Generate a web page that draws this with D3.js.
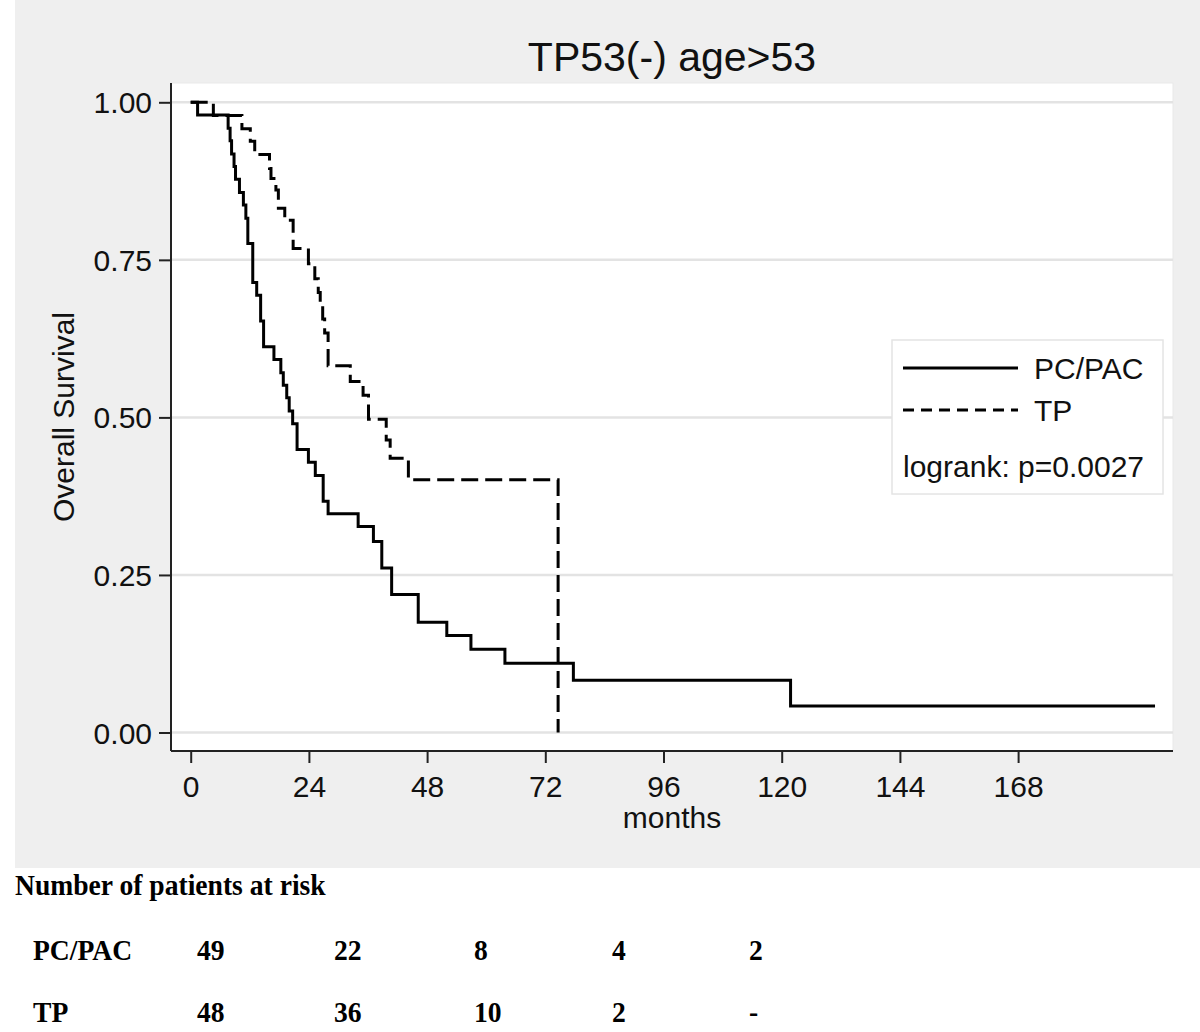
<!DOCTYPE html>
<html>
<head>
<meta charset="utf-8">
<script src="https://cdn.jsdelivr.net/npm/d3@7"></script>
<style>
  html, body { margin: 0; padding: 0; background: #ffffff; }
  svg { display: block; }
</style>
</head>
<body>
<svg id="chart" width="1200" height="1032"></svg>
<script>
// ---------------- data ----------------
const chartTitle = "TP53(-) age>53";
const xTickValues = [0, 24, 48, 72, 96, 120, 144, 168];
const yTickValues = [0, 0.25, 0.5, 0.75, 1.0];

// PC/PAC (solid) Kaplan-Meier steps: time (months) -> survival after the step
const pcTimes = [0, 1.4, 7.6, 8.0, 8.3, 8.8, 9.1, 9.9, 10.7, 11.2, 11.6, 12.6, 13.4, 14.2, 14.8,
  16.9, 18.3, 18.8, 19.5, 20.0, 20.7, 21.6, 23.9, 25.3, 26.9, 27.9, 34.0, 37.1, 38.8, 40.8,
  46.2, 52.0, 56.9, 63.8, 77.7, 121.8, 195.8];
const pcSurv = [1.0, 0.980, 0.959, 0.939, 0.918, 0.898, 0.878, 0.857, 0.837, 0.816, 0.776, 0.714, 0.694, 0.653, 0.612,
  0.592, 0.571, 0.551, 0.531, 0.510, 0.490, 0.449, 0.429, 0.408, 0.367, 0.347, 0.327, 0.303, 0.261, 0.219,
  0.175, 0.154, 0.132, 0.110, 0.083, 0.042, 0.042];

// TP (dashed) Kaplan-Meier steps
const tpTimes = [0, 4.6, 10.4, 12.1, 13.0, 16.0, 16.3, 17.3, 17.8, 19.1, 20.8, 23.9, 25.2, 25.9, 26.3,
  26.8, 27.2, 27.9, 32.4, 35.0, 36.1, 39.7, 40.5, 44.2, 74.6];
const tpSurv = [1.0, 0.979, 0.958, 0.938, 0.917, 0.895, 0.879, 0.861, 0.832, 0.813, 0.768, 0.744, 0.720, 0.698, 0.677,
  0.656, 0.634, 0.582, 0.557, 0.535, 0.497, 0.464, 0.435, 0.401, 0.0];

const seriesNames = ["PC/PAC", "TP"];
const logrankText = "logrank: p=0.0027";

// number at risk table
const riskTitle = "Number of patients at risk";
const riskRowNames = ["PC/PAC", "TP"];
const riskPC = ["49", "22", "8", "4", "2"];
const riskTP = ["48", "36", "10", "2", "-"];

// ---------------- layout ----------------
const svg = d3.select("#chart");
const sans = "'Liberation Sans', Arial, Helvetica, sans-serif";
const serif = "'Liberation Serif', 'Times New Roman', serif";
const plot = { left: 171, right: 1173, top: 83, bottom: 751 };

const x = d3.scaleLinear().domain([-4, 199.45]).range([plot.left, plot.right]);
const y = d3.scaleLinear().domain([0, 1]).range([732.5, 102.3]);

// background
svg.append("rect").attr("x", 15).attr("y", 0).attr("width", 1185).attr("height", 868).attr("fill", "#efefef");
svg.append("rect").attr("x", plot.left).attr("y", plot.top)
  .attr("width", plot.right - plot.left).attr("height", plot.bottom - plot.top)
  .attr("fill", "#ffffff").attr("stroke", "#e9e9e9").attr("stroke-width", 1);

// gridlines
svg.append("g").selectAll("line").data(yTickValues).join("line")
  .attr("x1", plot.left).attr("x2", plot.right)
  .attr("y1", d => y(d)).attr("y2", d => y(d))
  .attr("stroke", "#e3e3e3").attr("stroke-width", 2.5);

// title
svg.append("text").attr("x", (plot.left + plot.right) / 2).attr("y", 71)
  .attr("text-anchor", "middle").attr("font-family", sans).attr("font-size", 41)
  .attr("fill", "#111").text(chartTitle);

// axes
const xAxis = d3.axisBottom(x).tickValues(xTickValues).tickSize(12).tickPadding(12).tickFormat(d3.format("d"));
const gx = svg.append("g").attr("transform", `translate(0,${plot.bottom})`).call(xAxis);
gx.select(".domain").attr("d", `M${plot.left},0H${plot.right}`).attr("stroke", "#222").attr("stroke-width", 2);
gx.selectAll(".tick line").attr("stroke", "#222").attr("stroke-width", 2);
gx.selectAll(".tick text").attr("font-family", sans).attr("font-size", 30).attr("fill", "#111")
  .attr("dy", null).attr("y", 46);

const yAxis = d3.axisLeft(y).tickValues(yTickValues).tickSize(12).tickPadding(7).tickFormat(d3.format(".2f"));
const gy = svg.append("g").attr("transform", `translate(${plot.left},0)`).call(yAxis);
gy.select(".domain").attr("d", `M0,${plot.top}V${plot.bottom}`).attr("stroke", "#222").attr("stroke-width", 2);
gy.selectAll(".tick line").attr("stroke", "#222").attr("stroke-width", 2);
gy.selectAll(".tick text").attr("font-family", sans).attr("font-size", 30).attr("fill", "#111")
  .attr("dy", "0.35em");

// axis titles
svg.append("text").attr("x", (plot.left + plot.right) / 2).attr("y", 828)
  .attr("text-anchor", "middle").attr("font-family", sans).attr("font-size", 30)
  .attr("fill", "#111").text("months");
svg.append("text").attr("transform", `translate(74,${(plot.top + plot.bottom) / 2}) rotate(-90)`)
  .attr("text-anchor", "middle").attr("font-family", sans).attr("font-size", 30)
  .attr("fill", "#111").text("Overall Survival");

// curves
const line = d3.line().x(d => x(d[0])).y(d => y(d[1])).curve(d3.curveStepAfter);
const pcData = pcTimes.map((t, i) => [t, pcSurv[i]]);
const tpData = tpTimes.map((t, i) => [t, tpSurv[i]]);

svg.append("path").datum(tpData).attr("d", line)
  .attr("fill", "none").attr("stroke", "#000").attr("stroke-width", 3)
  .attr("stroke-dasharray", "17,7");
svg.append("path").datum(pcData).attr("d", line)
  .attr("fill", "none").attr("stroke", "#000").attr("stroke-width", 3);

// legend
const lg = svg.append("g");
lg.append("rect").attr("x", 892).attr("y", 340).attr("width", 271).attr("height", 154)
  .attr("fill", "#fff").attr("stroke", "#e4e4e4").attr("stroke-width", 1.5);
const legendRows = [
  { name: seriesNames[0], y: 368, dash: null },
  { name: seriesNames[1], y: 410, dash: "11,7" }
];
legendRows.forEach(r => {
  lg.append("line").attr("x1", 903).attr("x2", 1018).attr("y1", r.y).attr("y2", r.y)
    .attr("stroke", "#000").attr("stroke-width", 3).attr("stroke-dasharray", r.dash);
  lg.append("text").attr("x", 1034).attr("y", r.y + 10.5)
    .attr("font-family", sans).attr("font-size", 30).attr("fill", "#111").text(r.name);
});
lg.append("text").attr("x", 903).attr("y", 477)
  .attr("font-family", sans).attr("font-size", 30).attr("fill", "#111").text(logrankText);

// risk table
const colX = [197, 334, 474, 612, 749];
function boldText(tx, ty, s) {
  svg.append("text").attr("transform", `translate(${tx},${ty}) scale(0.92,1)`)
    .attr("font-family", serif).attr("font-weight", "bold").attr("font-size", 30)
    .attr("fill", "#000").text(s);
}
boldText(15, 895, riskTitle);
[riskPC, riskTP].forEach((row, ri) => {
  const by = ri === 0 ? 960 : 1022;
  boldText(33, by, riskRowNames[ri]);
  row.forEach((v, ci) => boldText(colX[ci], by, v));
});
</script>
</body>
</html>
